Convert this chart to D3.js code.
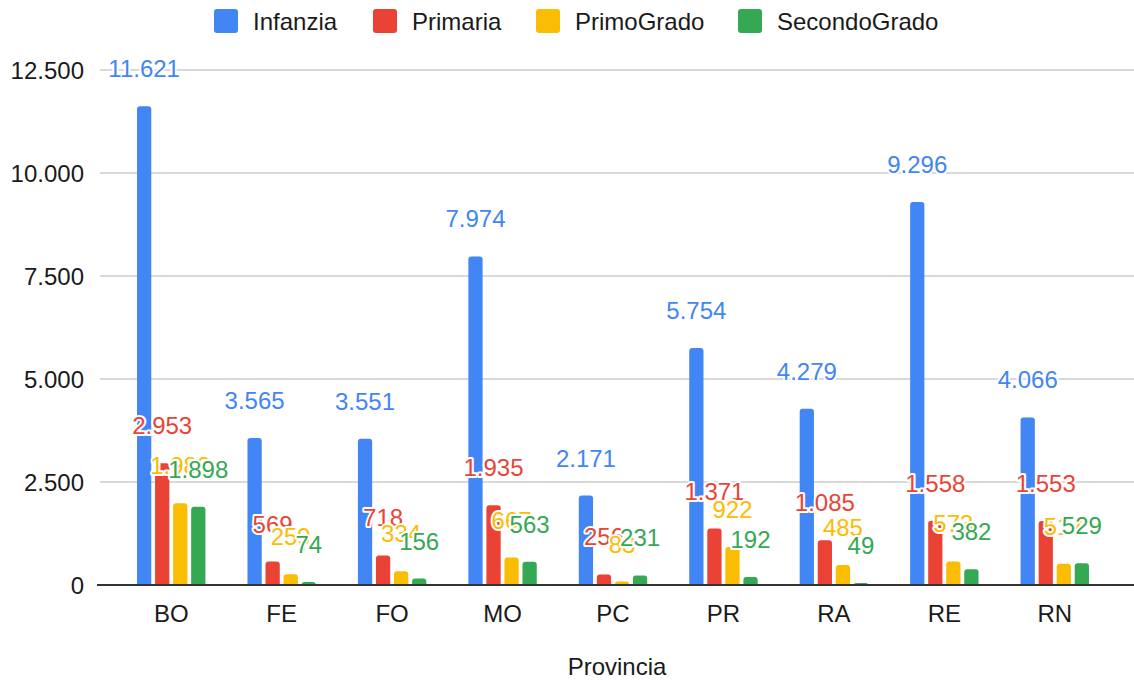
<!DOCTYPE html>
<html>
<head>
<meta charset="utf-8">
<script src="https://cdn.jsdelivr.net/npm/d3@7"></script>
<style>
  body { margin: 0; background: #fff; }
  text { font-family: "Liberation Sans", Arial, sans-serif; }
</style>
</head>
<body>
<svg id="chart" width="1134" height="680"></svg>
<script>
const provinces = ['BO', 'FE', 'FO', 'MO', 'PC', 'PR', 'RA', 'RE', 'RN']
const seriesNames = ['Infanzia', 'Primaria', 'PrimoGrado', 'SecondoGrado']
const infanzia = [11621, 3565, 3551, 7974, 2171, 5754, 4279, 9296, 4066]
const primaria = [2953, 569, 718, 1935, 256, 1371, 1085, 1558, 1553]
const primoGrado = [1982, 259, 334, 667, 83, 922, 485, 573, 517]
const secondoGrado = [1898, 74, 156, 563, 231, 192, 49, 382, 529]
const yTicks = [0, 2500, 5000, 7500, 10000, 12500]
const colors = ['#4285F4', '#EA4335', '#FBBC04', '#34A853']

const seriesValues = [infanzia, primaria, primoGrado, secondoGrado]
const fmt = d3.formatLocale({ decimal: ',', thousands: '.', grouping: [3], currency: ['', '€'] }).format(',d')

const svg = d3.select('#chart')
const margin = { left: 116, right: 24, top: 70, bottom: 95 }
const width = 1134, height = 680
const fontSize = 24

const x = d3.scaleBand()
  .domain(provinces)
  .range([margin.left, width - margin.right])
  .padding(0)

const x1 = d3.scaleBand()
  .domain(seriesNames)
  .range([-34.2, 34.2])
  .paddingInner(0.21)

const y = d3.scaleLinear()
  .domain([0, 12500])
  .range([height - margin.bottom, margin.top])

// gridlines
svg.append('g')
  .selectAll('line')
  .data(yTicks.slice(1))
  .join('line')
  .attr('x1', 100)
  .attr('x2', width)
  .attr('y1', d => y(d))
  .attr('y2', d => y(d))
  .attr('stroke', '#cccccc')
  .attr('stroke-width', 1.5)

// y tick labels
svg.append('g')
  .selectAll('text')
  .data(yTicks)
  .join('text')
  .attr('x', 84)
  .attr('y', d => y(d))
  .attr('dy', '0.36em')
  .attr('text-anchor', 'end')
  .attr('font-size', fontSize)
  .attr('fill', '#1a1a1a')
  .text(d => fmt(d))

const rows = provinces.map((p, i) => seriesNames.map((s, j) => ({
  province: p, series: s, value: seriesValues[j][i], color: colors[j]
})))
const flat = rows.flat()

// bars with rounded tops
const barPath = d => {
  const x0 = x(d.province) + x.bandwidth() / 2 + x1(d.series)
  const w = x1.bandwidth()
  const y0 = y(0)
  const yt = y(d.value)
  const r = Math.min(3, (y0 - yt), w / 2)
  return `M${x0},${y0} V${yt + r} Q${x0},${yt} ${x0 + r},${yt} H${x0 + w - r} Q${x0 + w},${yt} ${x0 + w},${yt + r} V${y0} Z`
}

svg.append('g')
  .selectAll('path')
  .data(flat)
  .join('path')
  .attr('d', barPath)
  .attr('fill', d => d.color)

// baseline
svg.append('line')
  .attr('x1', 97)
  .attr('x2', width)
  .attr('y1', y(0))
  .attr('y2', y(0))
  .attr('stroke', '#333')
  .attr('stroke-width', 2)

// data labels, drawn group by group so later series sit on top
svg.append('g')
  .selectAll('text')
  .data(flat)
  .join('text')
  .attr('x', d => x(d.province) + x.bandwidth() / 2 + x1(d.series) + x1.bandwidth() / 2)
  .attr('y', d => y(d.value) - 29)
  .attr('text-anchor', 'middle')
  .attr('font-size', fontSize)
  .attr('fill', d => d.color)
  .attr('stroke', '#fff')
  .attr('stroke-width', 4)
  .attr('stroke-linejoin', 'round')
  .attr('paint-order', 'stroke')
  .text(d => fmt(d.value))

// x axis labels
svg.append('g')
  .selectAll('text')
  .data(provinces)
  .join('text')
  .attr('x', d => x(d) + x.bandwidth() / 2)
  .attr('y', y(0) + 37)
  .attr('text-anchor', 'middle')
  .attr('font-size', fontSize)
  .attr('fill', '#1a1a1a')
  .text(d => d)

// axis title
svg.append('text')
  .attr('x', 617)
  .attr('y', 675)
  .attr('text-anchor', 'middle')
  .attr('font-size', fontSize)
  .attr('fill', '#1a1a1a')
  .text('Provincia')

// legend
const legendX = [214, 373, 536, 738]
const legend = svg.append('g')
  .selectAll('g')
  .data(seriesNames)
  .join('g')
  .attr('transform', (d, i) => `translate(${legendX[i]}, 9)`)

legend.append('rect')
  .attr('width', 24)
  .attr('height', 24)
  .attr('rx', 3)
  .attr('fill', (d, i) => colors[i])

legend.append('text')
  .attr('x', 39)
  .attr('y', 12)
  .attr('dy', '0.36em')
  .attr('font-size', fontSize)
  .attr('fill', '#1a1a1a')
  .text(d => d)
</script>
</body>
</html>
